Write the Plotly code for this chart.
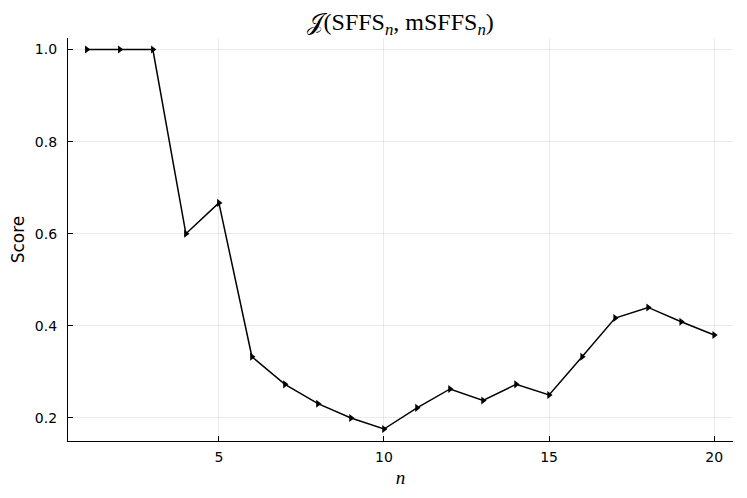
import plotly.graph_objects as go

n = list(range(1, 21))
score = [1.0, 1.0, 1.0, 0.6, 0.667, 0.333, 0.273, 0.231, 0.2, 0.176,
         0.222, 0.263, 0.238, 0.273, 0.25, 0.333, 0.417, 0.44, 0.409, 0.38]
xticks = [5, 10, 15, 20]
yticks = [0.2, 0.4, 0.6, 0.8, 1.0]
ytick_text = ["0.2", "0.4", "0.6", "0.8", "1.0"]

fig = go.Figure()
fig.add_trace(go.Scatter(
    x=n, y=score, mode="lines+markers",
    line=dict(color="black", width=1.5),
    marker=dict(symbol="triangle-right", size=7, color="black"),
    showlegend=False,
))

axis_common = dict(
    showline=True, linecolor="black", linewidth=1.2,
    showgrid=True, gridcolor="rgba(0,0,0,0.08)", gridwidth=1,
    ticks="inside", ticklen=5, tickcolor="black",
    zeroline=False, mirror=False, automargin=False,
    tickfont=dict(family="DejaVu Sans", size=14, color="black"),
)

# the page body adds an 8px offset, compensated in the margins
fig.update_layout(
    width=747, height=498,
    margin=dict(l=60, r=22, t=30, b=65),
    paper_bgcolor="white", plot_bgcolor="white",
    title=dict(
        text="𝒥(SFFS<sub><i>n</i></sub>, mSFFS<sub><i>n</i></sub>)",
        x=0.525, xanchor="center", y=0.972, yanchor="middle",
        font=dict(family="Liberation Serif", size=24, color="black"),
    ),
    xaxis=dict(
        range=[0.43, 20.57], tickvals=xticks, ticklabelstandoff=3,
        title=dict(text="<i>n</i>", font=dict(family="Liberation Serif", size=19, color="black"), standoff=6),
        **axis_common,
    ),
    yaxis=dict(
        range=[0.150, 1.025], tickvals=yticks, ticktext=ytick_text, ticklabelstandoff=7,
        title=dict(text="Score", font=dict(family="DejaVu Sans", size=17, color="black"), standoff=15),
        **axis_common,
    ),
)

fig.write_html("out.html")
